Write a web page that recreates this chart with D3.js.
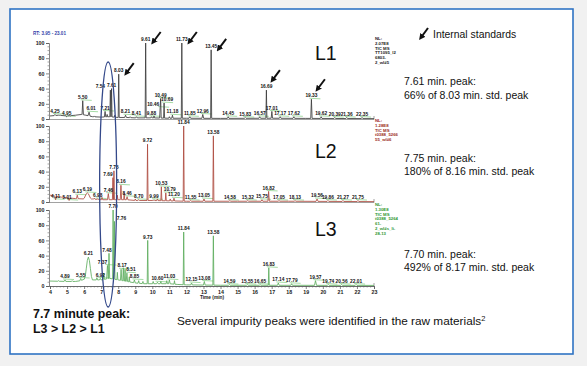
<!DOCTYPE html>
<html><head><meta charset="utf-8">
<script src="https://cdn.jsdelivr.net/npm/d3@7"></script>
<style>
html,body{margin:0;padding:0;background:#f1f1f1;}
svg{display:block;font-family:"Liberation Sans",Arial,sans-serif;}
</style></head>
<body><svg id="c" width="587" height="366"></svg>
<script>
// ---------- DATA ----------
const xTicks = [4,5,6,7,8,9,10,11,12,13,14,15,16,17,18,19,20,21,22,23];
const yTicks = [0,20,40,60,80,100];
const panelNames = ["L1","L2","L3"];

// baselines [rt, relative abundance]
const baseL1 = [[4,4],[4.5,5],[5,4],[5.5,5],[5.85,6],[6.1,5],[6.5,3],[7,2.5],[7.5,3],[8,2],[8.5,2],[9,1.5],[10,1.5],[11,1],[12,1],[14,0.8],[17,1],[19,0.8],[23,0.5]];
const baseL2 = [[4,9],[4.5,7],[5,5.5],[5.5,4.5],[6,4],[6.5,4],[7,3],[7.5,3],[8,3],[8.5,3],[9,2],[10,2],[11,1.5],[12,1],[15,1],[18,1],[23,0.5]];
const baseL3 = [[4,6.5],[5,6],[5.5,6],[5.8,7],[6,9],[6.5,8],[7,8],[7.5,10],[8,8],[8.5,6],[9,4],[9.5,3],[10,3],[11,3],[11.5,2],[12,1.5],[14,1],[23,0.8]];

// peaks [rt, height %, half width (min), label]
const peaksL1 = [[4.29,6,0.05,"4.25"],[4.98,3,0.05,"4.95"],[5.92,24,0.04,"5.50"],[6.29,9,0.06,"6.01"],[7.23,10,0.04,"7.21"],[7.54,38,0.03,"7.54"],[7.61,40,0.03,"7.61"],[8.03,59,0.03,"8.03"],[8.43,5,0.05,"8.21"],[9.07,3,0.05,"8.41"],[9.61,100,0.03,"9.61"],[9.95,3,0.04,"9.88"],[10.46,15,0.03,"10.46"],[10.49,27,0.03,"10.49"],[10.69,21,0.03,"10.69"],[11.18,5,0.04,"11.18"],[11.73,100,0.03,"11.73"],[12.2,3,0.05,"11.85"],[12.96,6,0.05,"12.96"],[13.45,91,0.03,"13.45"],[14.45,3,0.05,"14.45"],[15.45,2,0.05,"15.83"],[16.3,3,0.05,"16.57"],[16.69,38,0.03,"16.69"],[17.01,10,0.04,"17.01"],[17.5,3,0.05,"17.17"],[18.3,3,0.05,"17.62"],[19.33,26,0.04,"19.33"],[19.9,3,0.05,"19.62"],[20.7,2,0.05,"20.39"],[21.4,2,0.05,"21.36"],[22.3,2,0.05,"22.35"]];
const peaksL2 = [[4.33,3,0.05,"4.11"],[5.12,2,0.05,"5.01"],[5.6,9,0.05,"6.13"],[6.19,12,0.24,"6.19"],[6.8,4,0.05,"6.98"],[7.42,11,0.05,"7.46"],[7.69,32,0.03,"7.69"],[7.75,41,0.03,"7.75"],[8.16,22,0.04,"8.16"],[8.52,7,0.05,"8.46"],[9.2,3,0.05,"8.70"],[9.72,76,0.03,"9.72"],[10.1,3,0.04,"9.99"],[10.53,20,0.03,"10.53"],[10.79,12,0.03,"10.79"],[11.27,5,0.04,"11.20"],[11.84,100,0.03,"11.84"],[12.25,2,0.05,"11.55"],[13.03,4,0.05,"13.05"],[13.58,87,0.03,"13.58"],[14.55,2,0.05,"14.58"],[15.6,2,0.05,"15.32"],[16.43,3,0.05,"15.75"],[16.82,14,0.04,"16.82"],[17.43,2,0.05,"17.05"],[18.37,2,0.05,"18.13"],[19.66,4,0.06,"19.56"],[20.3,2,0.05,"19.86"],[21.18,2,0.05,"21.27"],[22.06,2,0.05,"21.75"]];
const peaksL3 = [[4.88,8,0.05,"4.89"],[5.8,10,0.05,"5.55"],[6.25,38,0.24,"6.21"],[6.95,10,0.05,"6.92"],[7.37,27,0.05,"7.37"],[7.46,43,0.04,"7.48"],[7.70,100,0.03,"7.70"],[7.78,85,0.03,"7.76"],[8.17,22,0.04,"8.17"],[8.51,17,0.04,"8.51"],[8.95,8,0.05,"8.85"],[9.73,60,0.03,"9.73"],[10.3,5,0.05,"10.60"],[11.0,8,0.05,"11.03"],[11.84,71,0.03,"11.84"],[12.3,4,0.05,"12.15"],[13.05,6,0.05,"13.08"],[13.58,66,0.03,"13.58"],[14.52,2,0.05,"14.59"],[15.57,2,0.05,"15.55"],[16.32,2,0.05,"16.65"],[16.83,24,0.03,"16.83"],[17.39,4,0.05,"17.14"],[18.17,3,0.05,"17.79"],[19.57,7,0.06,"19.57"],[20.32,2,0.05,"19.74"],[21.1,2,0.05,"20.56"],[21.95,2,0.05,"22.01"]];

// unlabeled baseline noise spikes [rt, height %, half width]
const noiseL1 = [[4.6,5,0.04],[5.2,4,0.04],[6.6,4,0.04],[7.35,6,0.03],[7.8,5,0.03],[8.7,3,0.04],[10.1,4,0.03],[11.0,3,0.04]];
const noiseL2 = [[4.7,6,0.04],[6.6,5,0.04],[7.05,6,0.04],[7.95,9,0.03],[8.35,12,0.03],[9.0,4,0.04],[10.3,4,0.04],[11.05,4,0.04]];
const noiseL3 = [[4.5,7,0.04],[5.3,7,0.04],[6.75,11,0.04],[7.15,17,0.04],[7.95,18,0.03],[8.3,24,0.03],[8.4,22,0.03],[8.65,12,0.03],[9.2,7,0.04],[9.45,6,0.04],[10.05,6,0.04],[10.5,6,0.04],[10.85,7,0.04],[11.3,7,0.03]];

const nlL1 = ["NL:","2.07E8","TIC MS","TT1095_l2","6803-","2_wl#5"];
const nlL2 = ["NL:","1.28E8","TIC MS","t0388_5266","55_wl#6"];
const nlL3 = ["NL:","1.30E8","TIC MS","t0388_5264","61-","2_wl#s_li-","28-13"];

const standardsL1 = [8.03,9.61,11.73,13.45,16.69,19.33];
const notes = [["7.61 min. peak:","66% of 8.03 min. std. peak"],["7.75 min. peak:","180% of 8.16 min. std. peak"],["7.70 min. peak:","492% of 8.17 min. std. peak"]];

// ---------- LAYOUT ----------
const svg = d3.select("#c");
const W = 587, H = 366;
svg.append("rect").attr("width",W).attr("height",H).attr("fill","#f1f1f1");
svg.append("rect").attr("x",10).attr("y",9).attr("width",563).attr("height",345)
  .attr("fill","#fff").attr("stroke","#2f73c4").attr("stroke-width",1.6);

const x = d3.scaleLinear().domain([4,23]).range([50,374]);
const panelBottoms = [119,202,286];
const panelH = 76;
const colors = ["#3c3c3c","#ad4a3f","#5fae5f"];
const nlColors = ["#222","#9b2b22","#2f962f"];
const bases = [baseL1,baseL2,baseL3];
const peaksAll = [peaksL1,peaksL2,peaksL3];
const noiseAll = [noiseL1,noiseL2,noiseL3];
const nls = [nlL1,nlL2,nlL3];
const nlTop = [40,122,206];
const nameY = [60,158,236];
const noteY = [[85,99],[162,175],[258,271]];
const nudge = {"0-7.54":[-10,0],"0-10.46":[-7,0],"0-10.69":[3,0],"0-6.01":[2,0],"1-7.69":[-5,0],"1-10.79":[4,0],"1-5.01":[-2,0],"2-7.37":[-5,0],"2-7.48":[-2,0],"2-7.76":[7,0],"2-8.51":[4,0],"2-8.17":[1,0]};

svg.append("text").attr("x",33).attr("y",35).attr("font-size",4.6).attr("fill","#3344aa")
  .attr("font-weight","bold").text("RT: 3.95 - 23.01");

panelBottoms.forEach((y0,i)=>{
  const y = d3.scaleLinear().domain([0,100]).range([y0,y0-panelH]);
  const g = svg.append("g");
  const baseScale = d3.scaleLinear().domain(bases[i].map(d=>d[0])).range(bases[i].map(d=>d[1]));
  const pk = peaksAll[i].map(d=>({rt:d[0],h:d[1],w:d[2],label:d[3]})).concat(noiseAll[i].map(d=>({rt:d[0],h:d[1],w:d[2]})));
  let pts = bases[i].map(d=>d[0]);
  pk.forEach(p=>{
    if(p.w>0.1){ for(let k=-4;k<=4;k++) pts.push(p.rt+k*p.w/4); }
    else { pts.push(p.rt-p.w,p.rt,p.rt+p.w); }
  });
  pts = Array.from(new Set(pts.map(v=>+v.toFixed(4)))).filter(v=>v>=4&&v<=23).sort((a,b)=>a-b);
  const val = t=>{
    let v = baseScale(t);
    pk.forEach(p=>{
      const d = Math.abs(t-p.rt);
      if(d<p.w){
        const k = p.w>0.1 ? (1+Math.cos(Math.PI*d/p.w))/2 : 1-d/p.w;
        v += (p.h-baseScale(p.rt))*k;
      }
    });
    return v;
  };
  g.append("line").attr("x1",49).attr("x2",374).attr("y1",y0+0.5).attr("y2",y0+0.5).attr("stroke","#8a8a8a").attr("stroke-width",0.8);
  g.append("line").attr("x1",374).attr("x2",374).attr("y1",y0+0.5).attr("y2",y0-3).attr("stroke","#8a8a8a").attr("stroke-width",0.8);
  const ya = d3.axisLeft(y).tickValues(yTicks).tickSize(3).tickPadding(1.5);
  const ag = g.append("g").attr("transform","translate(49,0)").call(ya);
  ag.select(".domain").attr("stroke","#555").attr("stroke-width",0.7);
  ag.selectAll(".tick line").attr("stroke","#555").attr("stroke-width",0.7);
  ag.selectAll("text").attr("font-size",5.3).attr("font-weight","bold").attr("fill","#222").attr("font-family","Liberation Sans, Arial");
  const minorY = d3.range(0,101,5).filter(v=>v%20);
  g.selectAll(null).data(minorY).join("line").attr("x1",47.5).attr("x2",49).attr("y1",d=>y(d)).attr("y2",d=>y(d)).attr("stroke","#666").attr("stroke-width",0.6);
  peaksAll[i].filter(d=>d[1]<30).forEach(d=>{
    const yy = y(val(d[0]))-1;
    g.append("line").attr("x1",x(d[0])-2).attr("x2",x(d[0])+9).attr("y1",yy).attr("y2",yy+0.6)
      .attr("stroke","#8fd38f").attr("stroke-width",0.8);
  });
  const line = d3.line().x(d=>x(d)).y(d=>y(val(d))).curve(d3.curveLinear);
  g.append("path").attr("d",line(pts)).attr("fill","none").attr("stroke",colors[i]).attr("stroke-width",0.85).attr("stroke-linejoin","round");
  peaksAll[i].forEach(d=>{
    const n = nudge[i+"-"+d[3]]||[0,0];
    g.append("text").attr("x",x(d[0])+n[0]).attr("y",y(Math.max(d[1],val(d[0])))-1.8+n[1])
      .attr("text-anchor","middle").attr("font-size",4.8).attr("font-weight","bold").attr("fill","#111")
      .text(d[3]);
  });
  nls[i].forEach((t,k)=>{
    g.append("text").attr("x",375).attr("y",nlTop[i]+k*4.8).attr("font-size",4.3).attr("font-weight","bold")
      .attr("fill",nlColors[i]).text(t);
  });
  svg.append("text").attr("x",315).attr("y",nameY[i]).attr("font-size",19.5).attr("fill","#111").text(panelNames[i]);
  notes[i].forEach((t,k)=>{
    svg.append("text").attr("x",404).attr("y",noteY[i][k]).attr("font-size",10.5).attr("fill","#111").text(t);
  });
  if(i===2){
    const xa = d3.axisBottom(x).tickValues(xTicks).tickSize(3).tickPadding(1.5).tickFormat(d3.format("d"));
    const xg = g.append("g").attr("transform",`translate(0,${y0})`).call(xa);
    xg.select(".domain").attr("stroke","#555").attr("stroke-width",0.7);
    xg.selectAll(".tick line").attr("stroke","#555").attr("stroke-width",0.7);
    xg.selectAll("text").attr("font-size",5.3).attr("font-weight","bold").attr("fill","#222").attr("font-family","Liberation Sans, Arial");
    const minorX = d3.range(4,23.001,0.2).filter(v=>Math.abs(v-Math.round(v))>0.01);
    g.selectAll(null).data(minorX).join("line").attr("x1",d=>x(d)).attr("x2",d=>x(d)).attr("y1",y0).attr("y2",y0+1.6).attr("stroke","#666").attr("stroke-width",0.5);
    g.append("text").attr("x",212).attr("y",299).attr("text-anchor","middle").attr("font-size",4.8).attr("font-weight","bold").attr("fill","#222").text("Time (min)");
  }
});

// arrows for internal standards
const defs = svg.append("defs");
defs.append("marker").attr("id","ah").attr("viewBox","0 0 10 10").attr("refX",5).attr("refY",5)
  .attr("markerWidth",3.2).attr("markerHeight",3.2).attr("orient","auto")
  .append("path").attr("d","M0,0 L10,5 L0,10 z").attr("fill","#111");
const y1 = d3.scaleLinear().domain([0,100]).range([119,43]);
standardsL1.forEach(rt=>{
  const p = peaksL1.find(d=>d[0]===rt);
  const tall = p[1] >= 50;
  const tx = x(rt) + (tall ? 6 : 4.5);
  const ty = tall ? Math.max(y1(p[1])+1, 44) : y1(p[1]) - 8;
  svg.append("line").attr("x1",tx+9).attr("y1",ty-12).attr("x2",tx+1.5).attr("y2",ty-2)
    .attr("stroke","#111").attr("stroke-width",2).attr("marker-end","url(#ah)");
});
svg.append("line").attr("x1",428).attr("y1",28).attr("x2",421).attr("y2",37.5)
  .attr("stroke","#111").attr("stroke-width",2).attr("marker-end","url(#ah)");
svg.append("text").attr("x",433).attr("y",38).attr("font-size",10.4).attr("fill","#111").text("Internal standards");

// ellipse annotation
svg.append("ellipse").attr("cx",x(7.41)).attr("cy",184.5).attr("rx",8.5).attr("ry",122.5)
  .attr("fill","none").attr("stroke","#34498a").attr("stroke-width",1.3);

// bottom texts
const bt = svg.append("text").attr("x",33).attr("font-size",12.4).attr("font-weight","bold").attr("fill","#111");
bt.append("tspan").attr("x",33).attr("y",318).text("7.7 minute peak:");
bt.append("tspan").attr("x",33).attr("y",333).text("L3 > L2 > L1");
const st = svg.append("text").attr("x",177).attr("y",325).attr("font-size",11.8).attr("fill","#111");
st.append("tspan").text("Several impurity peaks were identified in the raw materials");
st.append("tspan").attr("dy",-4).attr("font-size",7.5).text("2");
</script></body></html>
